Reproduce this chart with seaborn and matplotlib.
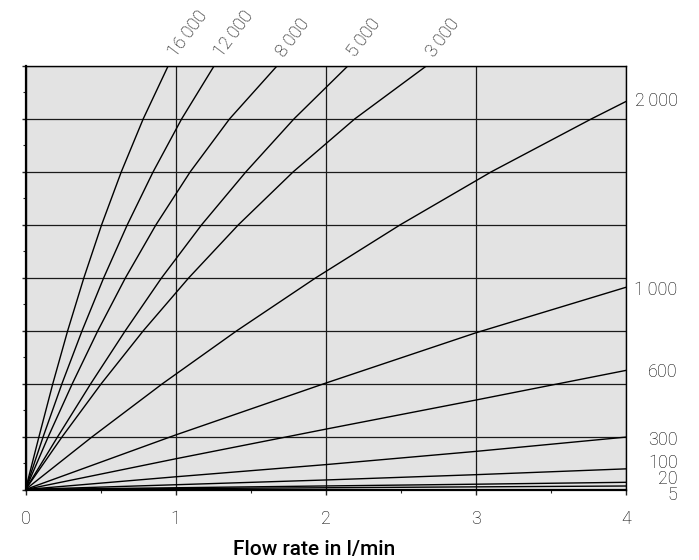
import numpy as np
import pandas as pd
import matplotlib
matplotlib.use("Agg")
import matplotlib.pyplot as plt
from matplotlib.ticker import MultipleLocator
import seaborn as sns

# Viscosity curves: flow rate (l/min) against pressure (grid units)
labels_top = ["16\u2009000", "12\u2009000", "8\u2009000", "5\u2009000", "3\u2009000"]
labels_right = ["2\u2009000", "1\u2009000", "600", "300", "100", "20", "5"]

pres_steep = [0, 1, 2, 3, 4, 5, 6, 7, 8]
flow_16000 = [0, 0.09, 0.182, 0.281, 0.389, 0.507, 0.638, 0.784, 0.95]
flow_12000 = [0, 0.118, 0.243, 0.377, 0.521, 0.678, 0.85, 1.04, 1.256]
flow_8000 = [0, 0.152, 0.312, 0.482, 0.666, 0.869, 1.097, 1.359, 1.675]
flow_5000 = [0, 0.215, 0.435, 0.665, 0.907, 1.173, 1.468, 1.788, 2.147]
flow_3000 = [0, 0.245, 0.505, 0.785, 1.088, 1.418, 1.783, 2.193, 2.67]
flow_2000 = [0, 0.446, 0.913, 1.408, 1.934, 2.496, 3.102, 3.769, 4.0]
pres_2000 = [0, 1, 2, 3, 4, 5, 6, 7, 7.33]
flow_low = [0, 1, 2, 3, 4]
pres_1000 = [0, 1.03, 2.01, 2.96, 3.82]
pres_600 = [0, 0.58, 1.14, 1.69, 2.25]
pres_300 = [0, 0.24, 0.47, 0.72, 0.99]
pres_100 = [0, 0.09, 0.18, 0.28, 0.39]
pres_20 = [0, 0.033, 0.067, 0.1, 0.136]
pres_5 = [0, 0.016, 0.033, 0.05, 0.066]

x_ticks = [0, 1, 2, 3, 4]
x_tick_labels = ["0", "1", "2", "3", "4"]

curves = {
    "16000": (flow_16000, pres_steep),
    "12000": (flow_12000, pres_steep),
    "8000": (flow_8000, pres_steep),
    "5000": (flow_5000, pres_steep),
    "3000": (flow_3000, pres_steep),
    "2000": (flow_2000, pres_2000),
    "1000": (flow_low, pres_1000),
    "600": (flow_low, pres_600),
    "300": (flow_low, pres_300),
    "100": (flow_low, pres_100),
    "20": (flow_low, pres_20),
    "5": (flow_low, pres_5),
}

rows = []
for name, (fx, py) in curves.items():
    for i, (a, b) in enumerate(zip(fx, py)):
        rows.append({"curve": name, "order": i, "flow": a, "pressure": b})
df = pd.DataFrame(rows)

sns.set_style("ticks")
plt.rcParams["font.family"] = ["Roboto", "DejaVu Sans"]

fig = plt.figure(figsize=(6.99, 5.6), dpi=100)
ax = fig.add_axes([25.5 / 699, 1 - 489.5 / 560, 600.5 / 699, 423.5 / 560])
ax.set_facecolor("#e3e3e3")

sns.lineplot(data=df, x="flow", y="pressure", hue="curve", units="curve",
             estimator=None, sort=False, palette=["black"] * len(curves),
             linewidth=1.0, legend=False, ax=ax, zorder=3)

ax.set_xlim(0, 4)
ax.set_ylim(0, 8)
ax.set_xticks(x_ticks)
ax.set_xticklabels(x_tick_labels, fontsize=13, fontweight="light", color="black")
ax.xaxis.set_minor_locator(MultipleLocator(0.5))
ax.yaxis.set_major_locator(MultipleLocator(1))
ax.yaxis.set_minor_locator(MultipleLocator(0.5))
ax.set_yticklabels([])
ax.tick_params(axis="x", which="major", direction="out", length=3.5, width=1.0, pad=11)
ax.tick_params(axis="x", which="minor", direction="out", length=2.5, width=0.8)
ax.tick_params(axis="y", which="major", direction="out", length=3, width=1.0)
ax.tick_params(axis="y", which="minor", direction="out", length=2, width=0.8)
ax.grid(True, which="major", color="#1a1a1a", linewidth=0.9, zorder=1)
ax.set_axisbelow(True)
ax.set_xlabel("")
ax.set_ylabel("")

for side in ["left", "bottom"]:
    ax.spines[side].set_linewidth(1.6)
    ax.spines[side].set_color("black")
for side in ["top", "right"]:
    ax.spines[side].set_visible(True)
    ax.spines[side].set_linewidth(1.0)
    ax.spines[side].set_color("black")

# Labels above the plot at the upper ends of the steep curves
for name, txt in zip(["16000", "12000", "8000", "5000", "3000"], labels_top):
    fx, py = curves[name]
    ax.text(fx[-1] + 0.05, 8.15, txt, rotation=53, rotation_mode="anchor",
            ha="left", va="baseline", fontsize=13, fontweight="light",
            color="black", clip_on=False)

# Labels to the right of the flatter curves
right_offsets = {"2000": 0.0, "1000": -0.05, "600": -0.03, "300": -0.05,
                 "100": 0.11, "20": 0.07, "5": -0.17}
for name, txt in zip(["2000", "1000", "600", "300", "100", "20", "5"], labels_right):
    fx, py = curves[name]
    ax.text(4.344, py[-1] + right_offsets[name], txt, ha="right", va="center",
            fontsize=13, fontweight="light", color="black", clip_on=False)

fig.text(314 / 699, 1 - 549 / 560, "Flow rate in l/min", ha="center", va="center",
         fontsize=15, fontweight="medium", color="black")

fig.savefig("out.png", dpi=100)
